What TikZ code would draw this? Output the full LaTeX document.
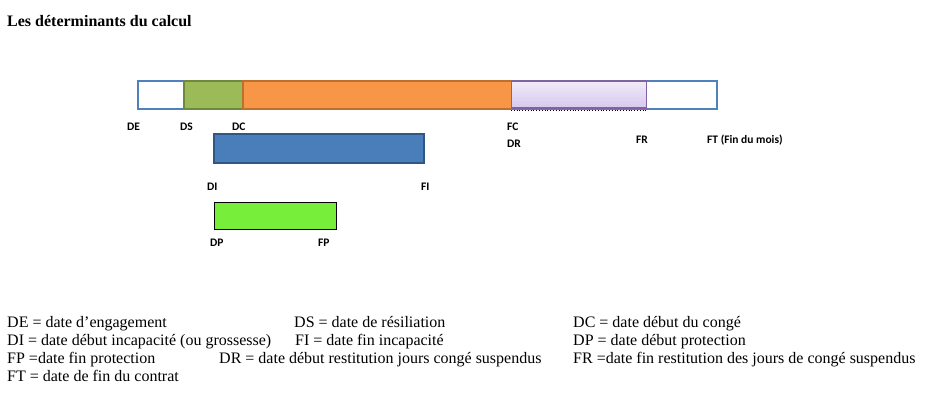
\documentclass[tikz,border=0pt]{standalone}
\usepackage{fontspec}
\usetikzlibrary{calc}
\setmainfont{Liberation Serif}
\newfontfamily\calib{Carlito}
\definecolor{oBlue}{HTML}{4F81BD}
\definecolor{oGreen}{HTML}{9BBB59}
\definecolor{oGreenB}{HTML}{71893F}
\definecolor{oOrange}{HTML}{F79646}
\definecolor{oOrangeB}{HTML}{C0702E}
\definecolor{oLav}{HTML}{E6DEF2}
\definecolor{oLav2}{HTML}{D6C8EE}
\definecolor{oPurple}{HTML}{8064A2}
\definecolor{bBar}{HTML}{4A7EBB}
\definecolor{bBarB}{HTML}{2F5685}
\definecolor{gBar}{HTML}{76EE3A}
\tikzset{
  seg/.style={draw, inner sep=0pt, anchor=north west, line width=2pt},
  lab/.style={font=\calib\bfseries\fontsize{11.5}{13}\selectfont, inner sep=0pt, anchor=base west},
  leg/.style={font=\fontsize{16}{18}\selectfont, inner sep=0pt, anchor=base west},
}
\begin{document}
\begin{tikzpicture}[x=1pt,y=-1pt]
\useasboundingbox (0,0) rectangle (929,393);
\node[font=\bfseries\fontsize{16}{18}\selectfont, inner sep=0pt, anchor=base west] (title) at (7,27) {Les déterminants du calcul};
% main bar
\node[seg, draw=oBlue, fill=white, minimum width=579pt, minimum height=28pt] (bar) at (137,80) {};
\node[seg, draw=oGreenB, fill=oGreen, minimum width=59pt, minimum height=28pt] (ds) at (183,80) {};
\node[seg, draw=oOrangeB, fill=oOrange, minimum width=269pt, minimum height=28pt] (dc) at (242,80) {};
\node[seg, draw=oPurple, line width=1.2pt, top color=oLav!60!white, bottom color=oLav2, minimum width=135pt, minimum height=27pt] (fc) at (511,80.5) {};
\draw[dotted, line width=0.8pt] ($(fc.south west)+(0,2)$) -- ($(fc.south east)+(0,2)$);
% incapacite bar
\node[seg, draw=bBarB, fill=bBar, minimum width=210pt, minimum height=29pt] (di) at (213,133) {};
% protection bar
\node[seg, draw=black, line width=1.3pt, fill=gBar, minimum width=122pt, minimum height=27pt] (dp) at (214,202) {};
% labels
\node[lab] (lDE) at (127,131) {DE};
\node[lab] (lDS) at (180,131) {DS};
\node[lab] (lDC) at (232,131) {DC};
\node[lab] (lFC) at (507,131) {FC};
\node[lab] (lDR) at (507,148) {DR};
\node[lab] (lFR) at (636,143) {FR};
\node[lab] (lFT) at (707,143) {FT (Fin du mois)};
\node[lab] (lDI) at (207,190) {DI};
\node[lab] (lFI) at (421,190) {FI};
\node[lab] (lDP) at (210,246) {DP};
\node[lab] (lFP) at (318,246) {FP};
% legend
\node[leg] (g1) at (7,327) {DE = date d’engagement};
\node[leg] (g2) at (294,327) {DS = date de résiliation};
\node[leg] (g3) at (573,327) {DC = date début du congé};
\node[leg] (g4) at (7,345) {DI = date début incapacité (ou grossesse)};
\node[leg] (g5) at (295,345) {FI = date fin incapacité};
\node[leg] (g6) at (573,345) {DP = date début protection};
\node[leg] (g7) at (7,363) {FP =date fin protection};
\node[leg] (g8) at (219,363) {DR = date début restitution jours congé suspendus};
\node[leg] (g9) at (573,363) {FR =date fin restitution des jours de congé suspendus};
\node[leg] (g10) at (7,381) {FT = date de fin du contrat};
\end{tikzpicture}
\end{document}
